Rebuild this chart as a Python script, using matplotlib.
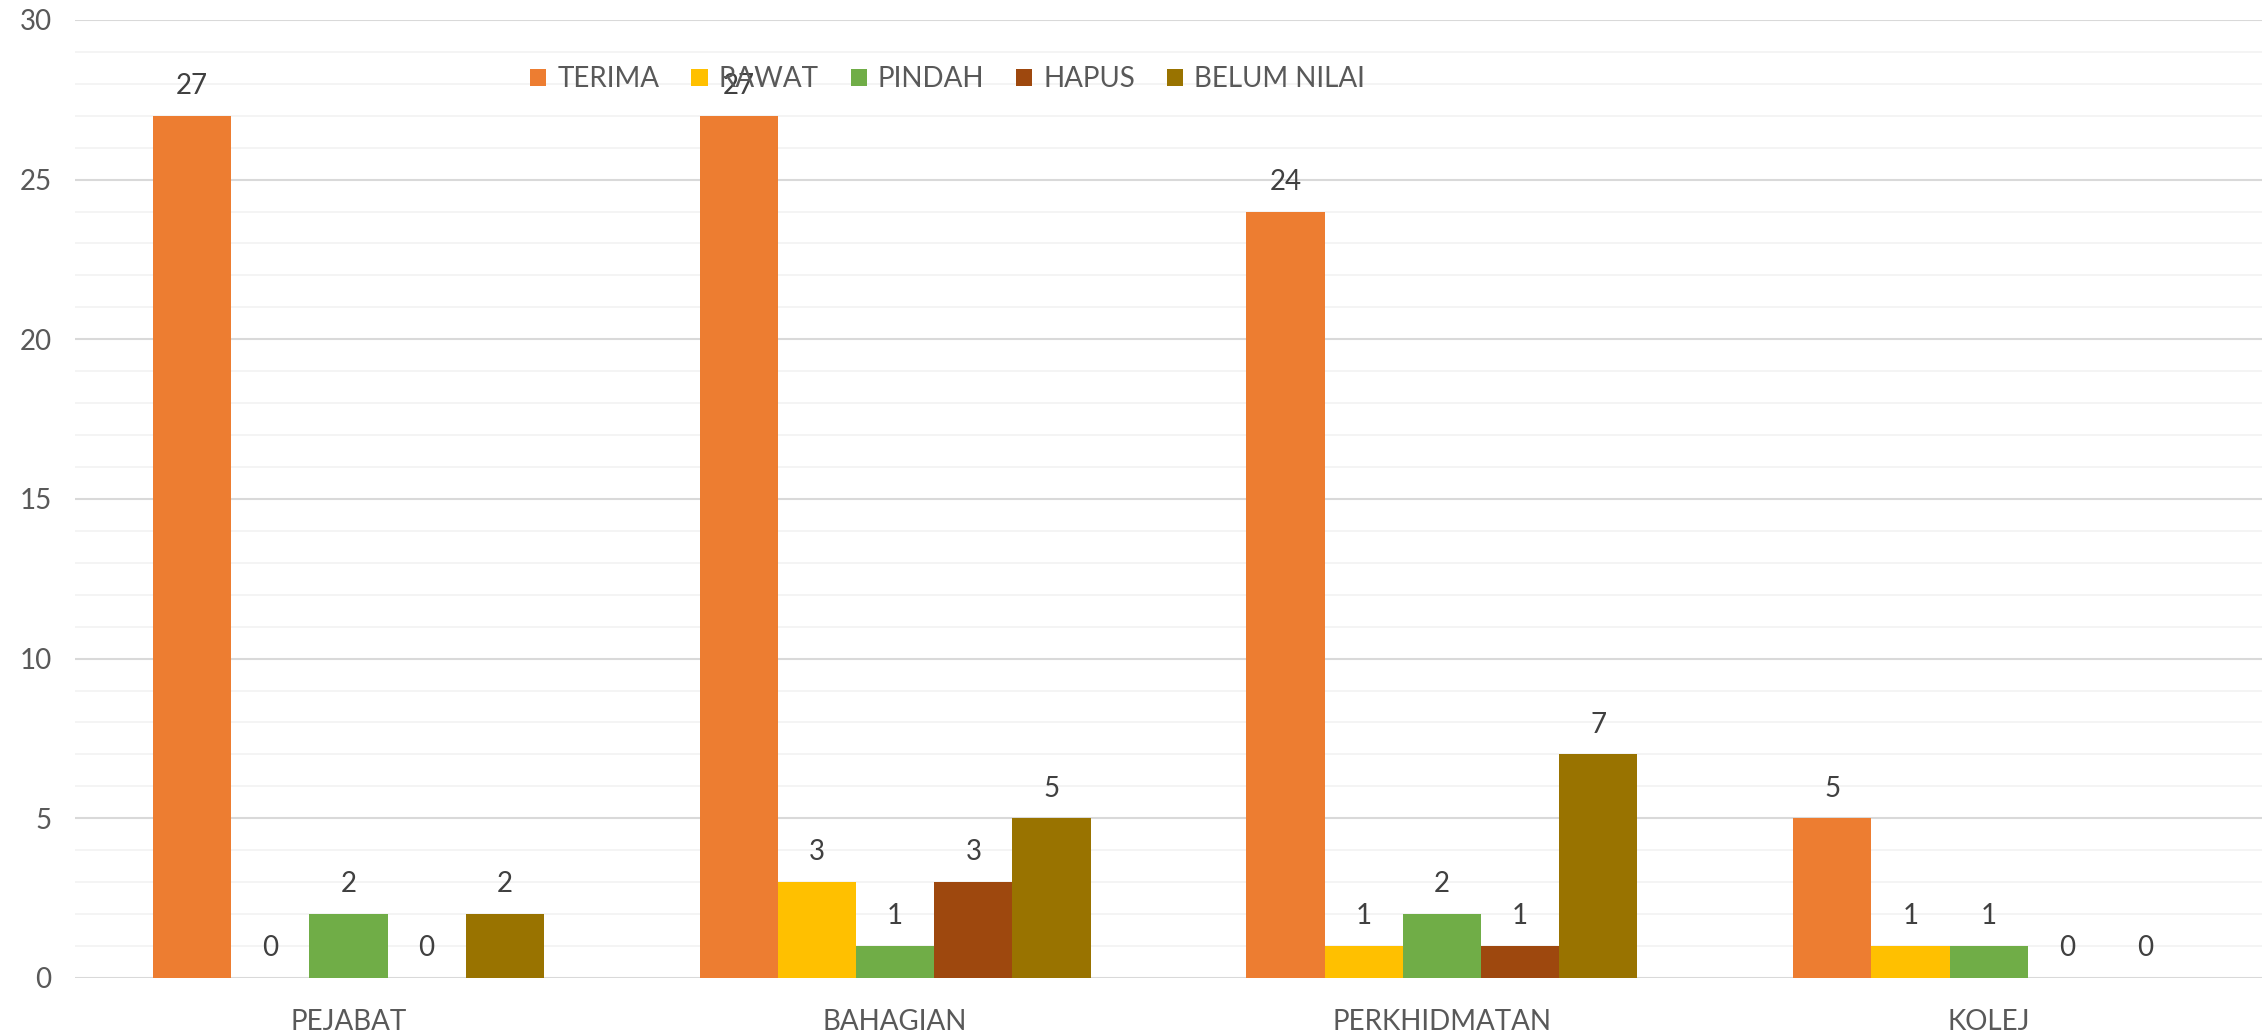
import numpy as np
import matplotlib
matplotlib.use('Agg')
import matplotlib.pyplot as plt
from matplotlib.ticker import MultipleLocator

# Chart data
categories = ['PEJABAT', 'BAHAGIAN', 'PERKHIDMATAN', 'KOLEJ']
series_names = ['TERIMA', 'RAWAT', 'PINDAH', 'HAPUS', 'BELUM NILAI']
terima = [27, 27, 24, 5]
rawat = [0, 3, 1, 1]
pindah = [2, 1, 2, 1]
hapus = [0, 3, 1, 0]
belum_nilai = [2, 5, 7, 0]
y_ticks = [0, 5, 10, 15, 20, 25, 30]

colors = ['#ED7D31', '#FFC000', '#70AD47', '#9E480E', '#997300']

plt.rcParams['font.family'] = ['Lato', 'DejaVu Sans']
FS = 20

fig = plt.figure(figsize=(22.62, 10.34), dpi=100)
ax = fig.add_axes([0.0332, 0.0542, 0.9668, 0.9265])

x = np.arange(len(categories))
width = 0.143
all_series = [terima, rawat, pindah, hapus, belum_nilai]

handles = []
for i, (name, values, color) in enumerate(zip(series_names, all_series, colors)):
    offset = (i - 2) * width
    bars = ax.bar(x + offset, values, width, color=color, label=name, zorder=3)
    handles.append(bars)
    # value labels above each bar
    for xi, v in zip(x + offset, values):
        ax.annotate(str(v), (xi, v), xytext=(0, 12), textcoords='offset points',
                    ha='center', va='bottom', fontsize=FS, color='#404040')

ax.set_xlim(-0.5, 3.5)
ax.set_ylim(0, 30)
ax.set_yticks(y_ticks)
ax.yaxis.set_minor_locator(MultipleLocator(1))
ax.set_xticks(x)
ax.set_xticklabels(categories)

ax.grid(axis='y', which='major', color='#D9D9D9', linewidth=1.5, zorder=0)
ax.grid(axis='y', which='minor', color='#F2F2F2', linewidth=1.2, zorder=0)
for s in ax.spines.values():
    s.set_visible(False)
ax.tick_params(axis='both', which='both', length=0, labelsize=FS, colors='#595959')
ax.tick_params(axis='y', pad=17)
ax.tick_params(axis='x', pad=22)

fig.legend(handles=handles, labels=series_names, loc='center',
           bbox_to_anchor=(0.419, 0.9236), ncol=5, frameon=False,
           fontsize=FS, handlelength=0.58, handleheight=0.58, handletextpad=0.4,
           columnspacing=1.15, labelcolor='#595959')

fig.savefig('out.png', dpi=100)
